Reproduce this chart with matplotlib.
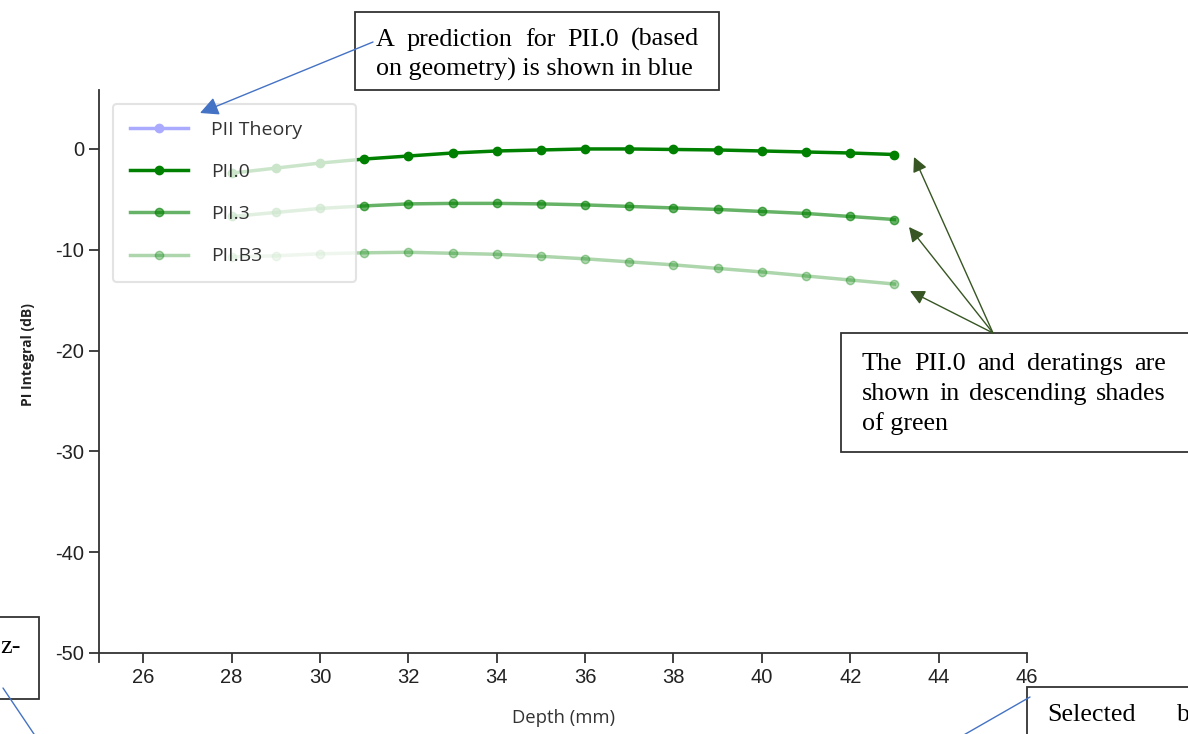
import matplotlib
matplotlib.use("Agg")
import matplotlib.pyplot as plt
from matplotlib.patches import Rectangle, FancyArrowPatch

plt.rcParams["axes.unicode_minus"] = False

# ---- data ----
depth = [28, 29, 30, 31, 32, 33, 34, 35, 36, 37, 38, 39, 40, 41, 42, 43]
pii_0 = [-2.4, -1.9, -1.4, -1.0, -0.7, -0.4, -0.2, -0.1, 0.0, 0.0, -0.05, -0.1, -0.2, -0.3, -0.4, -0.55]
pii_3 = [-6.7, -6.3, -5.9, -5.65, -5.45, -5.4, -5.4, -5.45, -5.55, -5.7, -5.85, -6.0, -6.2, -6.4, -6.7, -7.0]
pii_b3 = [-10.7, -10.6, -10.4, -10.3, -10.25, -10.35, -10.45, -10.65, -10.9, -11.2, -11.5, -11.85, -12.2, -12.6, -13.0, -13.4]
theory_depth = []
theory_vals = []
series_labels = ["PII Theory", "PII.0", "PII.3", "PII.B3"]
x_ticks = [26, 28, 30, 32, 34, 36, 38, 40, 42, 44, 46]
y_ticks = [0, -10, -20, -30, -40, -50]

W, H = 1188, 734
fig = plt.figure(figsize=(W / 100, H / 100), dpi=100)


def fx(px):
    return px / W


def fy(py):
    return 1 - py / H


AX_L, AX_R, AX_T, AX_B = 99, 1027, 90, 662
ax = fig.add_axes([fx(AX_L), fy(AX_B), fx(AX_R) - fx(AX_L), fy(AX_T) - fy(AX_B)])

green = "#008000"
ms = 6
ax.plot(theory_depth, theory_vals, color="#aaaaff", lw=2.5, marker="o", ms=ms, label=series_labels[0])
ax.plot(depth, pii_0, color=green, lw=2.5, marker="o", ms=ms, label=series_labels[1])
ax.plot(depth, pii_3, color=green, alpha=0.6, lw=2.5, marker="o", ms=ms, label=series_labels[2])
ax.plot(depth, pii_b3, color=green, alpha=0.32, lw=2.5, marker="o", ms=ms, label=series_labels[3])

ax.set_xlim(25, 46)
ax.set_ylim(-50.9, 5.85)
ax.set_xticks(x_ticks)
ax.set_yticks(y_ticks)
for s in ["top", "right"]:
    ax.spines[s].set_visible(False)
ax.spines["bottom"].set_position(("data", -50))
for s in ["left", "bottom"]:
    ax.spines[s].set_color("#333333")
    ax.spines[s].set_linewidth(1.3)
ax.tick_params(direction="out", length=7, width=1.3, color="#333333",
               labelsize=14.5, labelcolor="#222222")
for lab in ax.get_xticklabels() + ax.get_yticklabels():
    lab.set_fontfamily("Liberation Sans")
ax.set_xlabel("Depth (mm)", fontsize=13.3, family="Open Sans", color="#333333", labelpad=16)
ax.set_ylabel("PI Integral (dB)", fontsize=10, family="Open Sans", fontweight="bold",
              color="#222222")
AXW, AXH = AX_R - AX_L, AX_B - AX_T
ax.yaxis.set_label_coords((35 - AX_L) / AXW, (AX_B - 355) / AXH)

leg_x0, leg_x1, leg_y0, leg_y1 = 113, 356, 104, 284
leg = ax.legend(loc="upper left",
                bbox_to_anchor=((leg_x0 - AX_L) / AXW, (AX_B - leg_y1) / AXH,
                                (leg_x1 - leg_x0) / AXW, (leg_y1 - leg_y0) / AXH),
                mode="expand",
                borderaxespad=0, frameon=True, fancybox=True, framealpha=0.8,
                edgecolor="#dddddd", handlelength=3.0, handletextpad=1.2,
                labelspacing=1.25, borderpad=0.85,
                prop={"family": "Open Sans", "size": 14})
leg.get_frame().set_linewidth(1.5)
for t in leg.get_texts():
    t.set_color("#333333")

# ---- annotation overlays ----
serif = "Liberation Serif"
fs = 18.8
renderer = fig.canvas.get_renderer()


def put(x, y, s):
    return fig.text(fx(x), fy(y), s, family=serif, fontsize=fs, va="baseline",
                    ha="left", zorder=8, color="black")


def justified(lines, x0, x1, baselines):
    for i, (line, yb) in enumerate(zip(lines, baselines)):
        words = line.split()
        if i == len(lines) - 1 or len(words) == 1:
            put(x0, yb, line)
            continue
        ts = [put(0, 0, w) for w in words]
        widths = [t.get_window_extent(renderer).width for t in ts]
        gap = (x1 - x0 - sum(widths)) / (len(words) - 1)
        xp = x0
        for t, w in zip(ts, widths):
            t.set_position((fx(xp), fy(yb)))
            xp += w + gap


def box(x0, y0, x1, y1):
    fig.add_artist(Rectangle((fx(x0), fy(y1)), fx(x1) - fx(x0), fy(y0) - fy(y1),
                             transform=fig.transFigure, facecolor="white",
                             edgecolor="#333333", lw=1.3, zorder=5))


def arrow(p0, p1, color, scale, lw, head=True):
    fig.add_artist(FancyArrowPatch((fx(p0[0]), fy(p0[1])), (fx(p1[0]), fy(p1[1])),
                                   transform=fig.transFigure,
                                   arrowstyle="-|>" if head else "-",
                                   mutation_scale=scale, color=color, lw=lw,
                                   shrinkA=0, shrinkB=0, zorder=6))


# top blue note
box(355, 12, 719, 90)
justified(["A prediction for PII.0 (based", "on geometry) is shown in blue"], 376, 699, [46, 76])
arrow((373, 42), (200, 113), "#4472C4", 28, 1.0)

# right green note
box(841, 333, 1200, 452)
justified(["The PII.0 and deratings are", "shown in descending shades", "of green"], 862, 1166, [370, 400, 430])
dg = "#375623"
arrow((993, 333), (914, 157), dg, 22, 1.0)
arrow((993, 333), (909, 227), dg, 22, 1.0)
arrow((993, 333), (910, 291), dg, 22, 1.0)

# partial boxes at the edges
box(-20, 617, 39, 699)
put(0, 653, "z-")
arrow((3, 688), (38, 740), "#4472C4", 10, 1.0, head=False)

box(1027, 687, 1220, 760)
put(1047, 721, "Selected")
put(1177, 721, "b")
arrow((1030, 697), (955, 740), "#4472C4", 10, 1.0, head=False)

fig.savefig("out.png", dpi=100)
